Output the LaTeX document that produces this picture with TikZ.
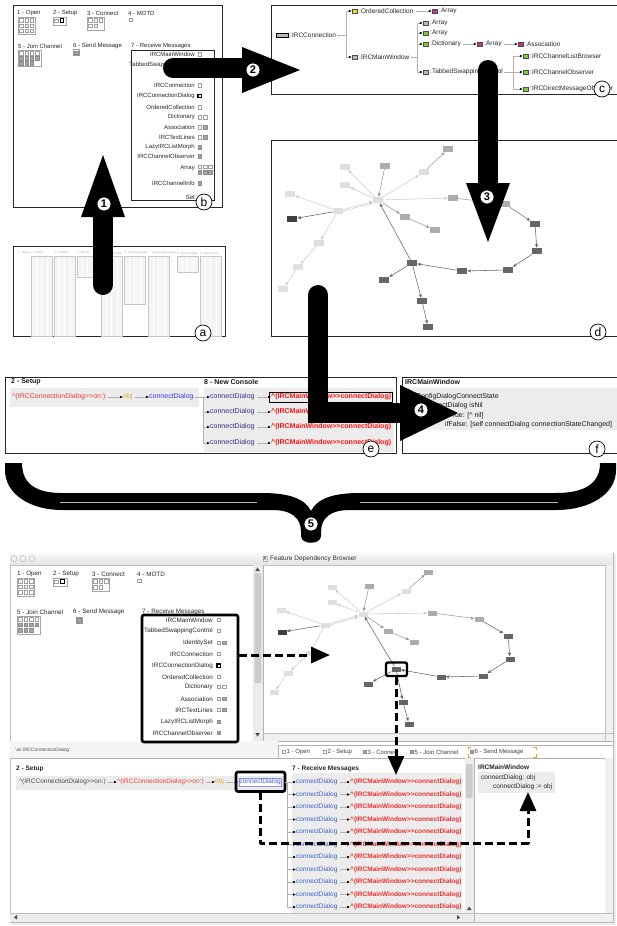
\documentclass[tikz,border=0pt]{standalone}
\usepackage{fontspec}
\setmainfont{Liberation Sans}
\usetikzlibrary{arrows.meta}
\newcommand\fsz[1]{\fontsize{#1}{#1}\selectfont}
\newcommand\isq[3]{\draw[#1] (#2,#3) rectangle ++(3.6,3.6);}
\definecolor{redl}{HTML}{F03C3C}
\definecolor{redb}{HTML}{FF1010}
\definecolor{orng}{HTML}{F0A030}
\definecolor{blu}{HTML}{3838E0}
\definecolor{navyc}{HTML}{303090}
\definecolor{sblu}{HTML}{4060C8}
\definecolor{sred}{HTML}{E83030}
\definecolor{cyel}{HTML}{F0E020}
\definecolor{cmag}{HTML}{C03090}
\definecolor{cgrn}{HTML}{80D030}
\colorlet{gl}{gray!25}
\colorlet{gm}{gray!65}
\colorlet{gd}{black!60}
\colorlet{gk}{black!75}
\colorlet{pbg}{gray!15}
\tikzset{
 pnl/.style={draw=black!85, line width=0.7pt},
 t6/.style={font=\fsz{6}, text=black!85, inner sep=0pt},
 t63/.style={font=\fsz{6.3}, text=black!85, inner sep=0pt},
 t65/.style={font=\fsz{6.5}, text=black!85, inner sep=0pt},
 t7/.style={font=\fsz{7}, text=black!90, inner sep=0pt},
 sqo/.style={draw=gray!75, fill=white, line width=0.4pt},
 sqd/.style={draw=gray!90, fill=gray!70, line width=0.4pt},
 sqh/.style={draw=black, fill=white, line width=1.1pt},
 ibox/.style={draw=gray!70, fill=white, line width=0.4pt},
 circlbl/.style={circle, draw=black, fill=white, line width=0.7pt, minimum size=16pt, inner sep=0pt, font=\fsz{12}},
 numlbl/.style={circle, draw=black, fill=white, line width=0.7pt, minimum size=14pt, inner sep=0pt, font=\fsz{11}\bfseries},
 bigarrow/.style={line width=20pt, draw=black},
 gnd/.style={rectangle, minimum width=10pt, minimum height=6pt, inner sep=0pt},
 gns/.style={rectangle, minimum width=9pt, minimum height=5pt, inner sep=0pt},
 ge/.style={-{Stealth[length=4pt,width=3.2pt]}, line width=0.55pt},
 gel/.style={draw=gray!40},
 gem/.style={draw=black!40},
 ged/.style={draw=black!60},
 tl/.style={draw=gray!60, line width=0.5pt},
 ta/.style={-{Latex[length=3pt,width=2.6pt,color=black]}, draw=gray!60, line width=0.5pt},
 ci/.style={draw=black!70, line width=0.4pt, minimum width=5pt, minimum height=4pt, inner sep=0pt},
 dsh/.style={line width=3pt, dash pattern=on 8pt off 4pt, draw=black, -{Triangle[length=19pt,width=16pt]}},
 hbox/.style={draw=black, line width=2.6pt, rounded corners=2pt},
}
\newcommand\gnodes[2]{\foreach \nn/\px/\py/\cc in {#2} {\node[#1, fill=\cc] (\nn) at (\px,\py) {};}}
\newcommand\gedges[1]{%
 \foreach \ea/\eb/\ec in {hub/L1/gel, hub/L2/gel, L5/L3/gel, L5/Dk/ged, L5/hub/gel, L5/L6/gel, L6/L7/gel, L7/L8/gel, M1/hub/gem, hub/L9/gel, L9/M2/gem, hub/M3/gel, M3/M6/gem, M6/D1/ged, D1/D2/ged, D2/D3/ged, D3/D4/ged, D4/D5/ged, D5/hub/ged, hub/M4/gem, M4/M5/gem, D5/D6/ged, D5/D7/ged, D7/D8/ged} {\draw[ge,\ec] (#1\ea) -- (#1\eb);}
 \draw[ge,gel,transform canvas={yshift=-1.6pt}] (#1L5) -- (#1hub);}
\begin{document}
\begin{tikzpicture}[x=1pt,y=-1pt]
\useasboundingbox (0,0) rectangle (616,926);
\fill[white] (0,0) rectangle (616,926);

% ================= panel b =================
\draw[pnl] (13,5) rectangle (222,207);
\node[t6,anchor=west] (bh1) at (17,13) {1 - Open};
\node[t6,anchor=west] (bh2) at (53,13) {2 - Setup};
\node[t6,anchor=west] (bh3) at (87,13) {3 - Connect};
\node[t6,anchor=west] (bh4) at (128,13) {4 - MOTD};
\draw[ibox] (18,17) rectangle (35,34);
\foreach \i in {0,1,2} \foreach \j in {0,1,2} {\isq{sqo}{19.5+5.2*\i}{18.5+5.2*\j}}
\draw[ibox] (53,17) rectangle (66,25);
\isq{sqo}{54.5}{18.8} \isq{sqh}{60.3}{18.8}
\draw[ibox] (87,17) rectangle (104,30);
\foreach \i in {0,1,2} {\isq{sqo}{88.5+5.2*\i}{18.5}}
\foreach \i in {0,1} {\isq{sqo}{88.5+5.2*\i}{24}}
\isq{sqo}{129}{18}
\node[t6,anchor=west] (bh5) at (18,46) {5 - Join Channel};
\node[t6,anchor=west] (bh6) at (73,46) {6 - Send Message};
\node[t6,anchor=west] (bh7) at (131,46) {7 - Receive Messages};
\draw[ibox] (18,50) rectangle (41,66);
\foreach \i in {0,1,2,3} {\isq{sqo}{19.5+5.2*\i}{51.3}}
\foreach \i in {0,1,2,3} {\isq{sqd}{19.5+5.2*\i}{56.3}}
\foreach \i in {0,1,2} {\isq{sqd}{19.5+5.2*\i}{61.3}}
\draw[draw=gray!80,fill=white,line width=0.4pt] (73,49.5) rectangle (79,55.5);
\isq{sqd}{74.2}{50.7}
\draw[pnl,line width=0.6pt] (131,50) rectangle (214,200);
\foreach \nm/\yy [count=\bi] in {IRCMainWindow/54, TabbedSwappingControl/65, IdentitySet/75, IRCConnection/85, IRCConnectionDialog/96, OrderedCollection/107, Dictionary/117, Association/127, IRCTextLines/137, LazyIRCListMorph/147, IRCChannelObserver/156, Array/168, IRCChannelInfo/183, Set/197}
 {\node[t6,anchor=east] (bl\bi) at (195,\yy) {\nm};}
\isq{sqo}{198}{52.2} \isq{sqo}{198}{63.2} \isq{sqo}{198}{73.2} \isq{sqd}{203.5}{73.2}
\isq{sqo}{198}{83.2} \isq{sqh}{198}{94.2} \isq{sqo}{198}{105.2}
\isq{sqo}{198}{115.2} \isq{sqo}{203.5}{115.2}
\isq{sqo}{198}{125.2} \isq{sqd}{203.5}{125.2}
\isq{sqo}{198}{135.2} \isq{sqd}{203.5}{135.2}
\isq{sqd}{198}{145.2} \isq{sqd}{198}{154.2}
\foreach \i in {0,1,2} {\isq{sqo}{198+5.2*\i}{165} \isq{sqd}{198+5.2*\i}{170.4}}
\isq{sqd}{198}{181.2}

% ================= panel c =================
\draw[pnl] (271,5) rectangle (630,94);
\node[draw=black, line width=0.6pt, fill=gray!55, minimum width=12pt, minimum height=4pt, inner sep=0pt] (cri) at (282,35) {};
\node[t65,anchor=west] (crl) at (290,35) {:IRCConnection};
\node[ci,fill=cyel] (c1i) at (354.5,11) {};
\node[t65,anchor=west] (c1l) at (359,11) {:OrderedCollection};
\node[ci,fill=cmag] (c2i) at (434.5,11) {};
\node[t65,anchor=west] (c2l) at (439,11) {:Array};
\node[ci,fill=gray!55] (c3i) at (354.5,57) {};
\node[t65,anchor=west] (c3l) at (359,57) {:IRCMainWindow};
\node[ci,fill=gray!55] (c4i) at (425.5,23) {};
\node[t65,anchor=west] (c4l) at (430,23) {:Array};
\node[ci,fill=cgrn] (c5i) at (425.5,33) {};
\node[t65,anchor=west] (c5l) at (430,33) {:Array};
\node[ci,fill=cgrn] (c6i) at (425.5,44) {};
\node[t65,anchor=west] (c6l) at (430,44) {:Dictionary};
\node[ci,fill=cmag] (c7i) at (479.5,44) {};
\node[t65,anchor=west] (c7l) at (484,44) {:Array};
\node[ci,fill=cmag] (c8i) at (520.5,44) {};
\node[t65,anchor=west] (c8l) at (525,44) {:Association};
\node[ci,fill=gray!55] (c9i) at (425.5,72) {};
\node[t65,anchor=west] (c9l) at (430,72) {:TabbedSwappingControl};
\node[ci,fill=cgrn] (c10i) at (525.5,56) {};
\node[t65,anchor=west] (c10l) at (530,56) {:IRCChannelListBrowser};
\node[ci,fill=cgrn] (c11i) at (525.5,72) {};
\node[t65,anchor=west] (c11l) at (530,72) {:IRCChannelObserver};
\node[ci,fill=cgrn] (c12i) at (525.5,89) {};
\node[t65,anchor=west] (c12l) at (530,89) {:IRCDirectMessageObserver};
\draw[tl] (crl.east) ++(1,0) -- (346,35);
\draw[tl] (346,11) -- (346,57);
\draw[ta] (346,11) -- (c1i.west);
\draw[ta] (346,57) -- (c3i.west);
\draw[ta] (c1l.east) ++(2,0) -- (c2i.west);
\draw[tl] (c3l.east) ++(1,0) -- (417,57);
\draw[tl] (417,23) -- (417,72);
\draw[ta] (417,23) -- (c4i.west);
\draw[ta] (417,33) -- (c5i.west);
\draw[ta] (417,44) -- (c6i.west);
\draw[ta] (417,72) -- (c9i.west);
\draw[ta] (c6l.east) ++(2,0) -- (c7i.west);
\draw[ta] (c7l.east) ++(2,0) -- (c8i.west);
\draw[tl] (c9l.east) ++(1,0) -- (513,72);
\draw[tl] (513,56) -- (513,89);
\draw[ta] (513,56) -- (c10i.west);
\draw[ta] (513,72) -- (c11i.west);
\draw[ta] (513,89) -- (c12i.west);

% ================= panel d =================
\draw[pnl] (271,140) rectangle (630,336);
\gnodes{gnd}{dL1/345/167/gl, dL2/345/185/gl, dL3/290/194/gl, dhub/378/200/gl, dL5/338/211/gl, dL6/319/243/gl, dL7/298/267/gl, dL8/283/289/gl, dL9/424/172/gl, dM1/385/166/gm, dM2/448/149/gm, dM3/453/198/gm, dM4/405/217/gm, dM5/435/230/gm, dM6/505/204/gm, dD1/535/224/gd, dD2/537/251/gd, dD3/508/270/gd, dD4/462/271/gd, dD5/412/263/gd, dD6/384/280/gd, dD7/422/301/gd, dD8/428/327/gd, dDk/292/219/gk}
\gedges{d}

% ================= panel a =================
\draw[pnl] (13,246) rectangle (225,336);
\node[font=\fsz{2.8}, text=gray!70, anchor=west, inner sep=0pt] (ah0) at (18,253) {1 - Open};
\foreach \cx/\cb/\hd [count=\ci] in {31/336/{2 - Setup}, 54/336/{3 - Connect}, 77/277/{4 - MOTD}, 101/336/{5 - Join Channel}, 124/304/{6 - Send Message}, 148/336/{7 - Receive Messages}, 177/272/{8 - New Console}, 200/336/{9 - Disconnect}} {
 \fill[gray!9] (\cx,256) rectangle (\cx+21,\cb);
 \draw[white, line width=0.5pt, xstep=5.25, ystep=2.2, shift={(\cx,256)}] (0,0) grid (21,\cb-256);
 \draw[gray!45, line width=0.3pt] (\cx,256) rectangle (\cx+21,\cb);
 \node[font=\fsz{2.8}, text=gray!70, anchor=west, inner sep=0pt] (ah\ci) at (\cx,253) {\hd};
}

% ================= panel e =================
\draw[pnl] (5,377) rectangle (396,453);
\node[t7,font=\fsz{7}\bfseries,anchor=west] (eh1) at (11,382) {2 - Setup};
\node[t7,font=\fsz{7}\bfseries,anchor=west] (eh2) at (204,382) {8 - New Console};
\fill[pbg] (10,388) rectangle (199,407);
\fill[pbg] (204,388) rectangle (394,452);
\node[t7,anchor=west,text=redl] (e1) at (12,397) {\textasciicircum(IRCConnectionDialog>{}>on:)};
\node[t7,anchor=west,text=orng] (e2) at (123,397) {obj};
\node[t7,anchor=west,text=blu] (e3) at (149,397) {connectDialog};
\draw[ta] (e1.east) ++(2,0) -- (e2.west);
\draw[ta] (e2.east) ++(2,0) -- (e3.west);
\draw[tl] (e3.east) ++(1,0) -- (203,397);
\draw[tl] (203,397) -- (203,443);
\foreach \yy [count=\ri] in {397,412,427,443} {
 \node[t7,anchor=west,text=navyc] (ec\ri) at (210,\yy) {connectDialog};
 \node[t7,font=\fsz{7}\bfseries,anchor=west,text=redb] (er\ri) at (271,\yy) {\textasciicircum(IRCMainWindow>{}>connectDialog)};
 \draw[ta] (203,\yy) -- (ec\ri.west);
 \draw[ta] (ec\ri.east) ++(2,0) -- (er\ri.west);
}
\draw[black, line width=0.8pt] ([shift={(-1.5,1.5)}]er1.south west) rectangle ([shift={(1.5,-1.5)}]er1.north east);

% ================= panel f =================
\draw[pnl] (402,377) rectangle (630,453);
\node[t7,font=\fsz{7}\bfseries,anchor=west] (fh) at (405,382) {IRCMainWindow};
\fill[pbg] (405,388) rectangle (630,430);
\node[t7,anchor=west] (f1) at (416,397) {ConfigDialogConnectState};
\node[t7,anchor=west] (f2) at (423,406) {connectDialog isNil};
\node[t7,anchor=west] (f3) at (445,416) {ifTrue: [\textasciicircum{} nil]};
\node[t7,anchor=west] (f4) at (445,425) {ifFalse: [self connectDialog connectionStateChanged]};

% ================= big arrows =================
\draw[bigarrow, line cap=round] (103,285) -- (103,214);
\fill[black] (81,217) -- (125,217) -- (103,155) -- cycle;
\draw[bigarrow, line cap=round] (173,68) -- (244,68);
\fill[black] (242,47) -- (242,93) -- (300,70) -- cycle;
\draw[bigarrow, line cap=round] (488,70) -- (488,186);
\fill[black] (466,183) -- (510,183) -- (488,242) -- cycle;
\draw[bigarrow, line cap=round, line join=miter] (318,295) -- (318,413) -- (398,413);
\fill[black] (400,385) -- (400,441) -- (458,413) -- cycle;

% ================= labels =================
\node[circlbl] (la) at (203,333) {a};
\node[circlbl] (lb) at (204,202) {b};
\node[circlbl] (lc) at (602,89) {c};
\node[circlbl] (ld) at (598,332) {d};
\node[circlbl] (le) at (371,449) {e};
\node[circlbl] (lf) at (597,449) {f};
\node[numlbl] (n1) at (104,204) {1};
\node[numlbl] (n2) at (253,70) {2};
\node[numlbl] (n3) at (487,197) {3};
\node[numlbl] (n4) at (421,410) {4};

% ================= brace =================
\fill[black] (5,463) -- (22,463) .. controls (22,484) and (36,493) .. (62,493) -- (262,493) .. controls (290,493) and (305,499) .. (311,511) .. controls (317,499) and (332,493) .. (360,493) -- (556,493) .. controls (584,493) and (600,484) .. (600,463) -- (616,463) -- (616,470) .. controls (616,494) and (590,510) .. (556,510) -- (350,510) .. controls (330,510) and (321,518) .. (321,532) -- (321,536) .. controls (321,545) and (301,545) .. (301,536) -- (301,532) .. controls (301,518) and (292,510) .. (272,510) -- (62,510) .. controls (30,510) and (5,494) .. (5,470) -- cycle;
\draw[gray!55, line width=0.4pt] (60,502) -- (257,502);
\draw[gray!55, line width=0.4pt] (360,502) -- (558,502);
\node[numlbl] (n5) at (311,524) {5};

% ================= screenshot =================
\fill[gray!15] (12,556) rectangle (616,925);
\draw[gray!55, fill=white, line width=0.5pt] (10,553) rectangle (613,922);
\shade[top color=gray!5, bottom color=gray!22] (10.3,553.3) rectangle (612.7,565);
\draw[gray!50, line width=0.4pt] (10,565) -- (613,565);
\foreach \cx [count=\ti] in {14,23,32} {\node[circle, draw=gray!60, fill=gray!12, minimum size=6pt, inner sep=0pt, line width=0.4pt] (tlc\ti) at (\cx,558.5) {};}
\node[draw=gray!60, font=\fsz{5}, inner sep=0.6pt, fill=white] (xic) at (265,558.5) {X};
\node[font=\fsz{6.5}, anchor=west, text=black!80, inner sep=0pt] (wtitle) at (270,558.5) {Feature Dependency Browser};
% scrollbars and separators
\draw[gray!60, line width=0.5pt] (263,565) -- (263,741);
\fill[gray!15] (253,565.3) rectangle (262.5,741);
\fill[gray!40, rounded corners=1pt] (254.3,573) rectangle (261.3,683);
\fill[black!70] (255.3,571) -- (259.8,571) -- (257.5,567.5) -- cycle;
\fill[black!70] (255.3,733) -- (259.8,733) -- (257.5,736.5) -- cycle;
\fill[gray!12] (605,565.3) rectangle (612.7,733);
\fill[gray!12] (263.5,733) rectangle (612.7,741);
\draw[gray!50, line width=0.3pt] (605,565) -- (605,741) (263,733) -- (613,733);
\draw[gray!60, line width=0.5pt] (10,741) -- (613,741);
\fill[gray!8] (10.3,741.3) rectangle (278,757.7);
\node[font=\fsz{4.8}, text=black!70, anchor=west, inner sep=0pt] (stat) at (15,750) {'an IRCConnectionDialog'};
\draw[gray!60, fill=white, line width=0.4pt] (278,745) rectangle (613,758);
\foreach \tx/\tt/\ts [count=\ti] in {282/{1 - Open}/sqo, 323/{2 - Setup}/sqo, 363/{3 - Connect}/sqd, 410/{5 - Join Channel}/sqd, 470/{6 - Send Message}/sqd} {
 \draw[\ts, line width=0.3pt] (\tx,750) rectangle ++(3,3);
 \node[font=\fsz{6}, text=black!75, anchor=west, inner sep=0pt] (tab\ti) at (\tx+4.5,752) {\tt};
}
\draw[orng, line width=0.5pt] (471,747) -- (468,747) -- (468,750) (468,754) -- (468,757) -- (471,757) (533,747) -- (536,747) -- (536,750) (536,754) -- (536,757) -- (533,757);
\draw[gray!60, line width=0.5pt] (10,758) -- (613,758);
\fill[gray!15] (465,758.3) rectangle (473.5,913);
\fill[gray!40, rounded corners=1pt] (466,764) rectangle (472.5,798);
\draw[gray!60, line width=0.5pt] (474,758) -- (474,921.7);
\fill[gray!12] (605,758.3) rectangle (612.7,913);
\fill[gray!15] (10.3,913) rectangle (473.5,921.7);
\fill[gray!12] (474.5,913) rectangle (612.7,921.7);
\draw[gray!50, line width=0.3pt] (10,913) -- (613,913);
\fill[black!70] (14,917.3) -- (17,915) -- (17,919.6) -- cycle;
\fill[black!70] (460,917.3) -- (457,915) -- (457,919.6) -- cycle;
\fill[black!70] (467,910) -- (471.5,910) -- (469.2,906.5) -- cycle;

% --- top-left feature pane
\node[t63,anchor=west] (sh1) at (17,574) {1 - Open};
\node[t63,anchor=west] (sh2) at (53,574) {2 - Setup};
\node[t63,anchor=west] (sh3) at (92,574) {3 - Connect};
\node[t63,anchor=west] (sh4) at (137,574) {4 - MOTD};
\draw[ibox] (17,578) rectangle (34.5,596);
\foreach \i in {0,1,2} \foreach \j in {0,1,2} {\isq{sqo}{18.5+5.4*\i}{579.5+5.4*\j}}
\draw[ibox] (53,578) rectangle (67,586.5);
\isq{sqo}{54.5}{579.7} \isq{sqh}{60.6}{579.7}
\draw[ibox] (92,578) rectangle (109.5,591.5);
\foreach \i in {0,1,2} {\isq{sqo}{93.5+5.4*\i}{579.5}}
\foreach \i in {0,1} {\isq{sqo}{93.5+5.4*\i}{585.5}}
\isq{sqo}{137.5}{579}
\node[t63,anchor=west] (sh5) at (17,612) {5 - Join Channel};
\node[t63,anchor=west] (sh6) at (73,612) {6 - Send Message};
\node[t63,anchor=west] (sh7) at (142,612) {7 - Receive Messages};
\draw[ibox] (17,616) rectangle (40.5,634);
\foreach \i in {0,1,2,3} {\isq{sqo}{18.5+5.4*\i}{617.5}}
\foreach \i in {0,1,2,3} {\isq{sqd}{18.5+5.4*\i}{623}}
\foreach \i in {0,1,2} {\isq{sqd}{18.5+5.4*\i}{628.5}}
\draw[draw=gray!80,fill=white,line width=0.4pt] (76,617) rectangle (82.5,623.5);
\isq{sqd}{77.4}{618.4}
\foreach \nm/\yy [count=\si] in {IRCMainWindow/620, TabbedSwappingControl/631, IdentitySet/643, IRCConnection/654, IRCConnectionDialog/666, OrderedCollection/677, Dictionary/687, Association/699, IRCTextLines/710, LazyIRCListMorph/722, IRCChannelObserver/733}
 {\node[t63,anchor=east] (sl\si) at (213,\yy) {\nm};}
\isq{sqo}{217}{618} \isq{sqo}{217}{629} \isq{sqo}{217}{641} \isq{sqd}{222.5}{641}
\isq{sqo}{217}{652} \isq{sqh}{217}{664} \isq{sqo}{217}{675}
\isq{sqo}{217}{685} \isq{sqo}{222.5}{685}
\isq{sqo}{217}{697} \isq{sqd}{222.5}{697}
\isq{sqo}{217}{708} \isq{sqd}{222.5}{708}
\isq{sqd}{217}{720} \isq{sqd}{217}{731}
\draw[hbox] (142,615) rectangle (238,742);
\coordinate (dA) at (239,655);
\coordinate (dAt) at (330,655);

% --- graph pane
\gnodes{gns}{sL1/332/587/gl, sL2/332/602/gl, sL3/281/610/gl, shub/363/614/gl, sL5/325/625/gl, sL6/310/653/gl, sL7/288/673/gl, sL8/274/692/gl, sL9/406/591/gl, sM1/369/586/gm, sM2/428/572/gm, sM3/432/613/gm, sM4/388/631/gm, sM5/414/642/gm, sM6/479/619/gm, sD1/508/636/gd, sD2/510/659/gd, sD3/483/676/gd, sD4/441/677/gd, sD5/396/669/gd, sD6/368/684/gd, sD7/403/702/gd, sD8/409/724/gd, sDk/282/632/gk}
\gedges{s}
\draw[hbox, line width=2.4pt] (386,662.5) rectangle (407,676);
\coordinate (dB) at (396,677);
\coordinate (dBt) at (396,775);

% --- setup pane (bottom left)
\node[t65,font=\fsz{6.5}\bfseries,anchor=west] (sbh1) at (16,769) {2 - Setup};
\fill[pbg] (16,776) rectangle (284,790);
\node[t65,anchor=west,text=black!70] (s1) at (19,782) {\textasciicircum(IRCConnectionDialog>{}>on:)};
\node[t65,anchor=west,text=redl] (s2) at (117,782) {\textasciicircum(IRCConnectionDialog>{}>on:)};
\node[t65,anchor=west,text=orng] (s3) at (215,782) {obj};
\node[t65,anchor=west,text=sblu,fill=white,draw=blue!45,line width=0.5pt,inner sep=0.8pt] (s4) at (238.5,782) {connectDialog};
\draw[ta] (s1.east) ++(2,0) -- (s2.west);
\draw[ta] (s2.east) ++(2,0) -- (s3.west);
\draw[ta] (s3.east) ++(2,0) -- (s4.west);
\draw[hbox] (236,772) rectangle (285,791.5);
\coordinate (dC) at (260,792);
\coordinate (dCt) at (528,792);

% --- receive messages pane
\node[t65,font=\fsz{6.5}\bfseries,anchor=west] (sbh2) at (292,769) {7 - Receive Messages};
\fill[pbg] (292,773) rectangle (462,912.5);
\draw[tl] (285,782) -- (287,782) -- (287,907);
\foreach \yy [count=\ri] in {782,794.5,807,819.5,832,844.5,857,869.5,882,894.5,907} {
 \node[t65,anchor=west,text=sblu] (sc\ri) at (296,\yy) {connectDialog};
 \node[t65,font=\fsz{6.5}\bfseries,anchor=west,text=sred] (sr\ri) at (350,\yy) {\textasciicircum(IRCMainWindow>{}>connectDialog)};
 \draw[ta] (287,\yy) -- (sc\ri.west);
 \draw[ta] (sc\ri.east) ++(2,0) -- (sr\ri.west);
}

% --- right method pane
\node[t65,font=\fsz{6.5}\bfseries,anchor=west] (sbh3) at (478,767) {IRCMainWindow};
\fill[pbg] (478,772) rectangle (555,793);
\node[t65,anchor=west] (sm1) at (481,778) {connectDialog: obj};
\node[t65,anchor=west] (sm2) at (493,787) {connectDialog := obj};

% --- dashed connectors
\draw[dsh] (dA) -- (dAt);
\draw[dsh] (dB) -- (dBt);
\draw[dsh, line join=round] (dC) -- (260,843) -- (528,843) -- (dCt);
\end{tikzpicture}
\end{document}
